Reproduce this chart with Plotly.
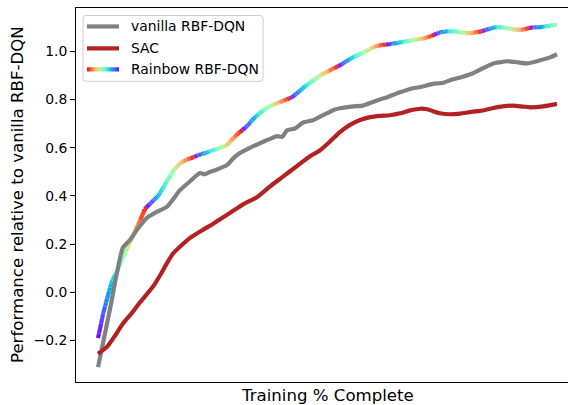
import math
import plotly.graph_objects as go

# ---- data: training progress (% complete) vs. performance relative to vanilla RBF-DQN ----
vanilla_x = [0, 2.6, 5.4, 7.0, 8.5, 10.7, 12.9, 15.0, 16.3, 17.9, 20.0, 22.2, 23.3, 24.4, 25.9,
             28.1, 29.4, 30.9, 33.1, 35.9, 37.5, 39.0, 40.1, 41.2, 42.9, 44.7, 46.8, 49.0, 51.2,
             52.7, 55.6, 57.7, 59.9, 61.4, 63.0, 65.8, 68.6, 70.2, 73.0, 75.2, 77.3, 79.5, 81.7,
             83.9, 86.1, 87.6, 89.1, 91.3, 93.5, 96.3, 98.5, 100]
vanilla_y = [-0.31, -0.07, 0.185, 0.218, 0.26, 0.31, 0.335, 0.355, 0.385, 0.425, 0.46, 0.495,
             0.49, 0.50, 0.51, 0.528, 0.555, 0.578, 0.60, 0.624, 0.637, 0.648, 0.645, 0.673, 0.68,
             0.705, 0.714, 0.735, 0.756, 0.764, 0.772, 0.775, 0.79, 0.80, 0.81, 0.83, 0.847, 0.852,
             0.865, 0.87, 0.884, 0.895, 0.909, 0.93, 0.95, 0.955, 0.959, 0.955, 0.95, 0.963, 0.975,
             0.988]

sac_x = [0, 2.0, 3.7, 5.4, 7.4, 9.2, 12.0, 13.5, 15.0, 16.3, 17.9, 20.0, 22.9, 25.1, 28.8, 31.6,
         34.6, 37.5, 40.3, 43.4, 46.2, 48.4, 50.5, 52.7, 54.9, 57.1, 59.3, 61.4, 63.6, 65.8, 68.0,
         70.2, 71.7, 73.0, 74.5, 76.7, 78.9, 81.0, 83.2, 86.1, 88.2, 90.4, 92.6, 94.1, 97.0, 100]
sac_y = [-0.255, -0.225, -0.18, -0.13, -0.085, -0.04, 0.024, 0.07, 0.12, 0.16, 0.19, 0.225, 0.26,
         0.285, 0.33, 0.365, 0.395, 0.44, 0.48, 0.525, 0.565, 0.59, 0.625, 0.665, 0.695, 0.715,
         0.727, 0.732, 0.735, 0.743, 0.755, 0.762, 0.76, 0.752, 0.743, 0.739, 0.742, 0.748, 0.753,
         0.765, 0.772, 0.775, 0.771, 0.768, 0.772, 0.782]

rainbow_x = [0, 1.1, 2.2, 3.1, 4.1, 5.0, 5.9, 7.0, 8.1, 9.2, 10.2, 10.9, 12.0, 13.1, 14.2, 15.3,
             16.6, 17.9, 19.2, 20.7, 22.2, 23.7, 25.1, 26.6, 28.1, 29.2, 30.3, 31.2, 32.5, 33.8,
             35.3, 36.8, 38.3, 39.7, 41.0, 42.3, 43.6, 45.1, 46.6, 48.4, 49.9, 51.4, 52.7, 54.2,
             55.8, 57.3, 58.8, 60.3, 61.9, 63.6, 65.1, 66.7, 68.2, 69.7, 71.2, 72.8, 74.3, 75.8,
             77.3, 78.9, 80.4, 81.9, 83.4, 84.9, 86.5, 88.0, 89.5, 91.1, 92.6, 94.1, 95.6, 97.2,
             98.7, 100]
rainbow_y = [-0.19, -0.09, -0.01, 0.05, 0.085, 0.13, 0.165, 0.21, 0.255, 0.30, 0.345, 0.36, 0.38,
             0.40, 0.435, 0.47, 0.51, 0.535, 0.55, 0.56, 0.572, 0.58, 0.59, 0.60, 0.611, 0.635,
             0.655, 0.67, 0.69, 0.72, 0.745, 0.765, 0.78, 0.79, 0.80, 0.81, 0.83, 0.855, 0.875,
             0.90, 0.915, 0.93, 0.942, 0.96, 0.978, 0.99, 1.005, 1.02, 1.027, 1.03, 1.035, 1.04,
             1.045, 1.05, 1.055, 1.065, 1.078, 1.083, 1.083, 1.08, 1.075, 1.078, 1.082, 1.092, 1.1,
             1.1, 1.095, 1.09, 1.09, 1.098, 1.1, 1.102, 1.108, 1.11]

y_ticks = [-0.2, 0.0, 0.2, 0.4, 0.6, 0.8, 1.0]
series_names = ["vanilla RBF-DQN", "SAC", "Rainbow RBF-DQN"]

# ---- styling ----
FONT = "DejaVu Sans"
GRAY = "#808080"
RED = "#b22222"
LW = 4.2
CYCLE = 10.45        # x-length of one pass through the colour map
NBINS = 36           # number of discrete colours used for the gradient line
W, H = 568, 405
ML, MR, MT, MB = 76, 0, 7.5, 22.5
PW, PH = W - ML - MR, H - MT - MB


def rainbow(t):
    """matplotlib-style 'rainbow' colour map."""
    r = min(1.0, abs(2 * t - 0.5))
    g = math.sin(math.pi * t)
    b = math.cos(math.pi * t / 2)
    return "rgb({:.0f},{:.0f},{:.0f})".format(r * 255, g * 255, b * 255)


def px_x(px):
    return (px - ML) / PW


def px_y(py):
    return (H - MB - py) / PH


fig = go.Figure()

# ---- gradient line: split the polyline into pieces coloured by cycle phase ----
pieces = []  # (xa, ya, xb, yb, bin)
for i in range(len(rainbow_x) - 1):
    x0, y0, x1, y1 = rainbow_x[i], rainbow_y[i], rainbow_x[i + 1], rainbow_y[i + 1]
    cuts = [x0, x1]
    k = math.floor(x0 / CYCLE) + 1
    while k * CYCLE < x1:
        if k * CYCLE > x0:
            cuts.append(k * CYCLE)
        k += 1
    step = 0.25
    xs = sorted(cuts)
    fine = []
    for a, b in zip(xs[:-1], xs[1:]):
        n = max(1, math.ceil((b - a) / step))
        for j in range(n):
            fine.append((a + (b - a) * j / n, a + (b - a) * (j + 1) / n))
    for a, b in fine:
        ya = y0 + (y1 - y0) * (a - x0) / (x1 - x0)
        yb = y0 + (y1 - y0) * (b - x0) / (x1 - x0)
        mid = 0.5 * (a + b)
        ph = (mid % CYCLE) / CYCLE
        pieces.append((a, ya, b, yb, min(NBINS - 1, int(ph * NBINS))))

bins_x = {k: [] for k in range(NBINS)}
bins_y = {k: [] for k in range(NBINS)}
cur_bin, cx, cy = None, [], []
for a, ya, b, yb, bn in pieces:
    if bn != cur_bin:
        if cur_bin is not None:
            bins_x[cur_bin] += cx + [None]
            bins_y[cur_bin] += cy + [None]
        cur_bin, cx, cy = bn, [a], [ya]
    cx.append(b)
    cy.append(yb)
bins_x[cur_bin] += cx
bins_y[cur_bin] += cy

for k in range(NBINS):
    if not bins_x[k]:
        continue
    fig.add_trace(go.Scatter(
        x=bins_x[k], y=bins_y[k], mode="lines",
        line=dict(color=rainbow((k + 0.5) / NBINS), width=LW),
        showlegend=False, hoverinfo="skip"))

fig.add_trace(go.Scatter(x=vanilla_x, y=vanilla_y, mode="lines", name=series_names[0],
                         line=dict(color=GRAY, width=LW, shape="spline", smoothing=0.5),
                         showlegend=False))
fig.add_trace(go.Scatter(x=sac_x, y=sac_y, mode="lines", name=series_names[1],
                         line=dict(color=RED, width=LW, shape="spline", smoothing=0.6),
                         showlegend=False))

# ---- hand-built legend (the third entry needs a gradient swatch) ----
shapes = []
bx0, bx1, by0, by1, rr = 83, 263, 15, 81, 3
path = (f"M {px_x(bx0 + rr)},{px_y(by0)} L {px_x(bx1 - rr)},{px_y(by0)} "
        f"Q {px_x(bx1)},{px_y(by0)} {px_x(bx1)},{px_y(by0 + rr)} "
        f"L {px_x(bx1)},{px_y(by1 - rr)} Q {px_x(bx1)},{px_y(by1)} {px_x(bx1 - rr)},{px_y(by1)} "
        f"L {px_x(bx0 + rr)},{px_y(by1)} Q {px_x(bx0)},{px_y(by1)} {px_x(bx0)},{px_y(by1 - rr)} "
        f"L {px_x(bx0)},{px_y(by0 + rr)} Q {px_x(bx0)},{px_y(by0)} {px_x(bx0 + rr)},{px_y(by0)} Z")
shapes.append(dict(type="path", path=path, xref="paper", yref="paper",
                   fillcolor="rgba(255,255,255,0.8)", line=dict(color="#cccccc", width=1)))

sw0, sw1 = 87, 119
rows = [26, 48, 69]
shapes.append(dict(type="line", xref="paper", yref="paper", x0=px_x(sw0), x1=px_x(sw1),
                   y0=px_y(rows[0]), y1=px_y(rows[0]), line=dict(color=GRAY, width=LW)))
shapes.append(dict(type="line", xref="paper", yref="paper", x0=px_x(sw0), x1=px_x(sw1),
                   y0=px_y(rows[1]), y1=px_y(rows[1]), line=dict(color=RED, width=LW)))
nsw = 16
for j in range(nsw):
    a = sw0 + (sw1 - sw0) * j / nsw
    b = sw0 + (sw1 - sw0) * (j + 1) / nsw
    shapes.append(dict(type="line", xref="paper", yref="paper", x0=px_x(a), x1=px_x(b),
                       y0=px_y(rows[2]), y1=px_y(rows[2]),
                       line=dict(color=rainbow(1 - (j + 0.5) / nsw), width=LW)))

annotations = []
for name, ry in zip(series_names, rows):
    annotations.append(dict(text=name, xref="paper", yref="paper", x=px_x(129), y=px_y(ry),
                            xanchor="left", yanchor="middle", showarrow=False,
                            font=dict(family=FONT, size=13.9, color="black")))

# axis titles
annotations.append(dict(text="Training % Complete", xref="paper", yref="paper",
                        x=px_x(327), y=px_y(396), xanchor="center", yanchor="middle",
                        showarrow=False, font=dict(family=FONT, size=16.6, color="black")))
annotations.append(dict(text="Performance relative to vanilla RBF-DQN", xref="paper", yref="paper",
                        x=px_x(17), y=px_y(195), xanchor="center", yanchor="middle",
                        textangle=-90, showarrow=False,
                        font=dict(family=FONT, size=16.6, color="black")))

fig.update_layout(
    width=W, height=H,
    margin=dict(l=ML, r=MR, t=MT, b=MB, pad=0),
    paper_bgcolor="white", plot_bgcolor="white",
    shapes=shapes, annotations=annotations,
    showlegend=False,
    xaxis=dict(range=[-4.8, 102.4], showgrid=False, zeroline=False, showticklabels=False,
               ticks="", showline=True, linecolor="black", linewidth=1.1, mirror=True),
    yaxis=dict(range=[-0.372, 1.18], showgrid=False, zeroline=False,
               tickmode="array", tickvals=y_ticks, tickformat=".1f",
               ticks="outside", ticklen=4.9, tickwidth=1.1, tickcolor="black",
               showline=True, linecolor="black", linewidth=1.1,
               tickfont=dict(family=FONT, size=13.9, color="black")),
)

fig.write_html("out.html")
